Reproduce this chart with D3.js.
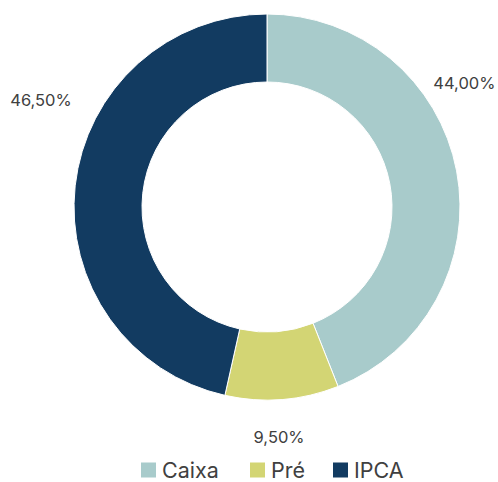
<!DOCTYPE html>
<html>
<head>
<meta charset="utf-8">
<script src="https://cdn.jsdelivr.net/npm/d3@7"></script>
<style>
  html, body { margin: 0; padding: 0; background: #ffffff; }
  svg { display: block; }
</style>
</head>
<body>
<svg id="chart" width="498" height="482"></svg>
<script>
// Portfolio allocation by index type
const categories = ["Caixa", "Pré", "IPCA"];
const values = [44.0, 9.5, 46.5];
const valueLabels = ["44,00%", "9,50%", "46,50%"];
const colors = ["#a8cbcb", "#d3d574", "#123b61"];

const width = 498, height = 482;
const cx = 267, cy = 207;
const outerR = 193, innerR = 125;

const svg = d3.select("#chart");
const g = svg.append("g").attr("transform", `translate(${cx},${cy})`);

const pie = d3.pie().sort(null).value(d => d)(values);
const arc = d3.arc().innerRadius(innerR).outerRadius(outerR);

g.selectAll("path.slice")
  .data(pie)
  .join("path")
  .attr("class", "slice")
  .attr("d", arc)
  .attr("fill", (d, i) => colors[i])
  .attr("stroke", "#ffffff")
  .attr("stroke-width", 1);

// Outside data labels: direction and distance tuned per slice
const labelPlacement = [
  { angle: 57.9, r: 233 },
  { angle: 177.0, r: 230 },
  { angle: 295.3, r: 250 }
];

g.selectAll("text.value")
  .data(pie)
  .join("text")
  .attr("class", "value")
  .attr("x", (d, i) => Math.sin(labelPlacement[i].angle * Math.PI / 180) * labelPlacement[i].r)
  .attr("y", (d, i) => -Math.cos(labelPlacement[i].angle * Math.PI / 180) * labelPlacement[i].r)
  .attr("text-anchor", "middle")
  .attr("dominant-baseline", "central")
  .attr("font-family", "Inter, 'Open Sans', sans-serif")
  .attr("font-size", 16.5)
  .attr("fill", "#404040")
  .text((d, i) => valueLabels[i]);

// Legend
const legendX = [141, 250, 333];
const legendY = 470;
const legend = svg.append("g");
const items = legend.selectAll("g.item")
  .data(categories)
  .join("g")
  .attr("class", "item")
  .attr("transform", (d, i) => `translate(${legendX[i]},${legendY})`);

items.append("rect")
  .attr("x", 0)
  .attr("y", -7.5)
  .attr("width", 15)
  .attr("height", 15)
  .attr("fill", (d, i) => colors[i]);

items.append("text")
  .attr("x", 21)
  .attr("y", 0)
  .attr("dominant-baseline", "central")
  .attr("font-family", "Inter, 'Open Sans', sans-serif")
  .attr("font-size", 21.5)
  .attr("fill", "#404040")
  .text(d => d);
</script>
</body>
</html>
